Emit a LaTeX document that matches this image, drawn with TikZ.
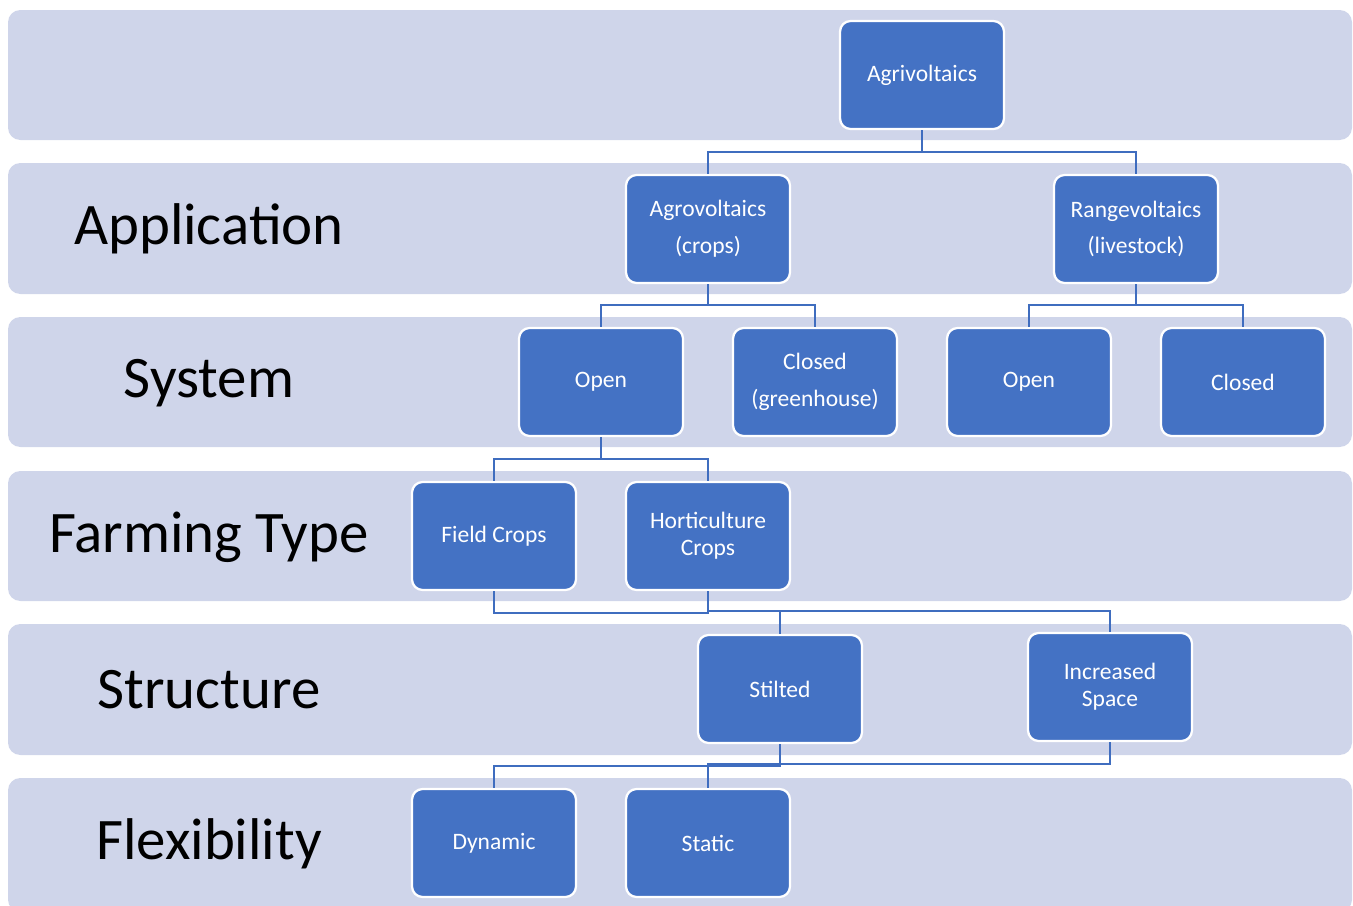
\documentclass[tikz,border=0pt]{standalone}
\usepackage{fontspec}
\setmainfont{Carlito}
\usetikzlibrary{positioning, calc}
\definecolor{bandfill}{HTML}{CFD5EA}
\definecolor{boxblue}{HTML}{4472C4}
\definecolor{linkblue}{HTML}{3F6DBF}
\tikzset{
  band/.style={fill=bandfill, draw=none, rounded corners=7pt},
  level/.style={font=\fontsize{33.5}{35}\selectfont, text=black},
  box/.style={draw=white, line width=1.3pt, fill=boxblue, rounded corners=6pt, minimum width=3.28cm, minimum height=2.16cm, text=white, align=center, font=\fontsize{13.4}{21}\selectfont},
  tightbox/.style={box, font=\fontsize{13.4}{15.5}\selectfont},
  link/.style={draw=linkblue, line width=1.6pt},
}

\begin{document}
\begin{tikzpicture}[x=0.02cm, y=-0.02cm]
  \useasboundingbox (0,0) rectangle (1353,906);

  % bands
  \foreach \top/\bot in {10/140, 163/294, 317/447, 471/601, 624/755, 778/912}
    \fill[band] (8,\top) rectangle (1352,\bot);
  \node[level] (lapp) at (209,229) {Application};
  \node[level] (lsys) at (209,383) {System};
  \node[level] (lfarm) at (209,537) {Farming Type};
  \node[level] (lstruct) at (209,690) {Structure};
  \node[level] (lflex) at (209,844) {Flexibility};

  % boxes
  \node[box] (agri) at (922,75) {Agrivoltaics};
  \node[box] (agro) at (708,229) {Agrovoltaics\\(crops)};
  \node[box] (range) at (1136,229) {Rangevoltaics\\(livestock)};
  \node[box] (openc) at (601,382) {Open};
  \node[box] (closedc) at (815,382) {Closed\\(greenhouse)};
  \node[box] (openl) at (1029,382) {Open};
  \node[box] (closedl) at (1243,382) {Closed};
  \node[box] (field) at (494,536) {Field Crops};
  \node[tightbox] (horti) at (708,536) {Horticulture\\Crops};
  \node[box] (stilt) at (780,689) {Stilted};
  \node[tightbox] (incr) at (1110,687) {Increased\\Space};
  \node[box] (dyn) at (494,843) {Dynamic};
  \node[box] (stat) at (708,843) {Static};

  % junctions
  \coordinate (j1) at (922,152);
  \coordinate (j2) at (708,305);
  \coordinate (j3) at (1136,305);
  \coordinate (j4) at (601,459);
  \coordinate (j5) at (494,613);
  \coordinate (j6) at (708,611);
  \coordinate (j7) at (780,766);
  \coordinate (j8) at (1110,764);

  % connectors
  \draw[link] (agri.south) -- (j1);
  \draw[link] (agro.north) |- (j1) -| (range.north);
  \draw[link] (agro.south) -- (j2);
  \draw[link] (openc.north) |- (j2) -| (closedc.north);
  \draw[link] (range.south) -- (j3);
  \draw[link] (openl.north) |- (j3) -| (closedl.north);
  \draw[link] (openc.south) -- (j4);
  \draw[link] (field.north) |- (j4) -| (horti.north);
  \draw[link] (field.south) -- (j5) -| (horti.south);
  \draw[link] (horti.south) -- (j6) -| (incr.north);
  \draw[link] (stilt.north) -- (stilt.north |- j6);
  \draw[link] (stilt.south) -- (j7) -| (dyn.north);
  \draw[link] (incr.south) -- (j8) -| (stat.north);
\end{tikzpicture}
\end{document}
